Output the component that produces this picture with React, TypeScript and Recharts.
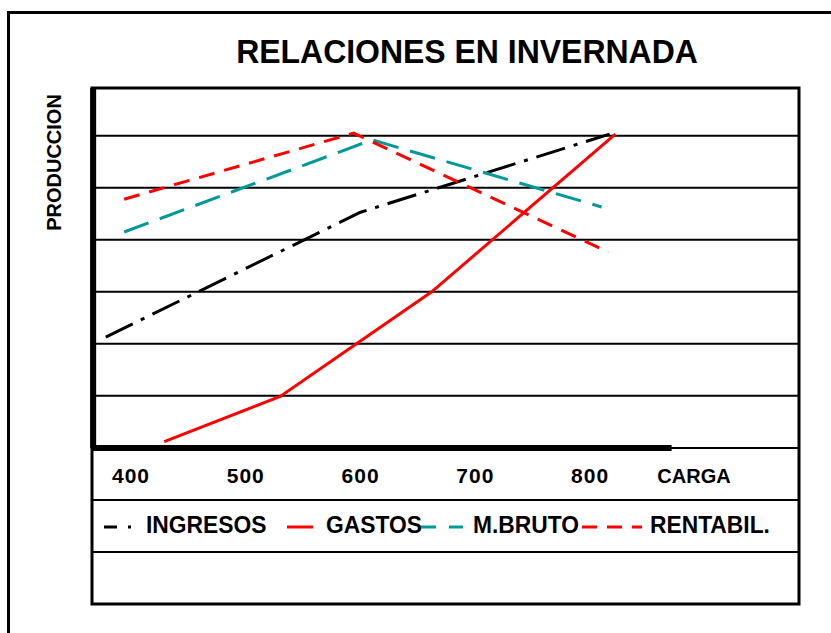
import React from 'react';
import {
  LineChart,
  Line,
  XAxis,
  YAxis,
  CartesianGrid,
  ReferenceLine,
  ReferenceArea,
  Legend,
} from 'recharts';

// ---- data (CARGA on x, PRODUCCION on y in grid units) ----
const ingresos = [
  { x: 378, y: 2.13 },
  { x: 600, y: 4.53 },
  { x: 817, y: 6.03 },
];
const gastos = [
  { x: 429, y: 0.12 },
  { x: 530, y: 0.99 },
  { x: 662, y: 3.0 },
  { x: 822, y: 6.03 },
];
const mBruto = [
  { x: 394, y: 4.15 },
  { x: 610, y: 5.92 },
  { x: 810, y: 4.63 },
];
const rentabil = [
  { x: 394, y: 4.78 },
  { x: 594, y: 6.05 },
  { x: 816, y: 3.76 },
];

const xTicks = [400, 500, 600, 700, 800];
const xDomain = [366, 982];
const yDomain = [-3, 6.917];
const yGridTicks = [-2, -1, 0, 1, 2, 3, 4, 5, 6];
const xAxisEnd = 871;

const TITLE = 'RELACIONES EN INVERNADA';
const X_TITLE = 'CARGA';
const Y_TITLE = 'PRODUCCION';

const FONT = '"Liberation Sans", Arial, Helvetica, sans-serif';

const series = [
  { name: 'INGRESOS', data: ingresos, color: '#000000', dash: '30 9 4 9', legendDash: '13 11 3 100', symW: 27, symX: 104, textX: 146 },
  { name: 'GASTOS', data: gastos, color: '#ff0000', dash: undefined, legendDash: undefined, symW: 26, symX: 287, textX: 326 },
  { name: 'M.BRUTO', data: mBruto, color: '#009999', dash: '26 12', legendDash: '15 13', symW: 42, symX: 421, textX: 473 },
  { name: 'RENTABIL.', data: rentabil, color: '#ff0000', dash: '16 10', legendDash: '15 10', symW: 60, symX: 582, textX: 650 },
];

const renderTick = (props: any) => {
  const { x, payload } = props;
  return (
    <text
      x={x}
      y={483}
      textAnchor="middle"
      fontFamily={FONT}
      fontWeight="bold"
      fontSize={21}
      letterSpacing={1}
      fill="#000"
    >
      {payload.value}
    </text>
  );
};

const renderXTitle = (props: any) => {
  const vb = props.viewBox || {};
  return (
    <text
      x={vb.x + vb.width - 105}
      y={483}
      textAnchor="middle"
      fontFamily={FONT}
      fontWeight="bold"
      fontSize={20}
      fill="#000"
    >
      {X_TITLE}
    </text>
  );
};

const renderYTitle = () => {
  const cx = 60.5;
  const cy = 162.5;
  return (
    <text
      x={cx}
      y={cy}
      transform={`rotate(-90, ${cx}, ${cy})`}
      textAnchor="middle"
      fontFamily={FONT}
      fontWeight="bold"
      fontSize={20}
      fill="#000"
    >
      {Y_TITLE}
    </text>
  );
};

const renderLegend = () => (
  <div style={{ position: 'relative', width: 831, height: 30 }}>
    {series.map((s) => (
      <React.Fragment key={s.name}>
        <svg
          width={s.symW}
          height={30}
          style={{ position: 'absolute', left: s.symX, top: 0 }}
        >
          <line
            x1={0}
            y1={17}
            x2={s.symW}
            y2={17}
            stroke={s.color}
            strokeWidth={3}
            strokeDasharray={s.legendDash}
          />
        </svg>
        <span
          style={{
            position: 'absolute',
            left: s.textX,
            top: 0,
            lineHeight: '30px',
            fontSize: 24,
            fontWeight: 'bold',
            fontFamily: FONT,
            color: '#000',
            whiteSpace: 'nowrap',
            transform: 'scaleX(0.95)',
            transformOrigin: 'left center',
          }}
        >
          {s.name}
        </span>
      </React.Fragment>
    ))}
  </div>
);

export default function App() {
  return (
    <div
      style={{
        position: 'absolute',
        left: 0,
        top: 0,
        width: 831,
        height: 633,
        overflow: 'hidden',
        background: '#fff',
        fontFamily: FONT,
      }}
    >
      <div
        style={{
          position: 'absolute',
          left: 7,
          top: 11,
          width: 900,
          height: 700,
          borderLeft: '3px solid #000',
          borderTop: '3px solid #000',
        }}
      />
      <div
        style={{
          position: 'absolute',
          left: 67,
          top: 34,
          width: 800,
          textAlign: 'center',
          fontSize: 34,
          lineHeight: '34px',
          fontWeight: 'bold',
          fontFamily: FONT,
          color: '#000',
          whiteSpace: 'nowrap',
          transform: 'scaleX(0.94)',
          transformOrigin: 'center center',
        }}
      >
        {TITLE}
      </div>
      <div style={{ position: 'absolute', left: 0, top: 0 }}>
        <LineChart
          width={831}
          height={633}
          margin={{ top: 88, right: 32, bottom: 28, left: 91 }}
        >
          <CartesianGrid
            vertical={false}
            horizontalValues={yGridTicks}
            stroke="#000"
            strokeWidth={2}
            strokeOpacity={1}
          />
          <XAxis
            dataKey="x"
            type="number"
            domain={xDomain}
            ticks={xTicks}
            allowDataOverflow
            height={1}
            axisLine={false}
            tickLine={false}
            tickSize={0}
            tickMargin={0}
            tick={renderTick}
            interval={0}
            label={renderXTitle}
          />
          <YAxis
            type="number"
            domain={yDomain}
            ticks={yGridTicks}
            allowDataOverflow
            width={1}
            axisLine={false}
            tickLine={false}
            tick={() => null}
            label={renderYTitle}
          />
          <ReferenceArea
            x1={xDomain[0]}
            x2={xDomain[1]}
            y1={yDomain[0]}
            y2={yDomain[1]}
            fill="none"
            fillOpacity={0}
            stroke="#000"
            strokeWidth={3}
            ifOverflow="visible"
          />
          <ReferenceLine
            segment={[
              { x: xDomain[0], y: 0 },
              { x: xAxisEnd, y: 0 },
            ]}
            stroke="#000"
            strokeWidth={6}
            ifOverflow="visible"
          />
          <ReferenceLine
            segment={[
              { x: 367, y: 0 },
              { x: 367, y: yDomain[1] },
            ]}
            stroke="#000"
            strokeWidth={6}
            ifOverflow="visible"
          />
          {series.map((s) => (
            <Line
              key={s.name}
              data={s.data}
              dataKey="y"
              name={s.name}
              type="linear"
              stroke={s.color}
              strokeWidth={3}
              strokeDasharray={s.dash}
              dot={false}
              activeDot={false}
              isAnimationActive={false}
            />
          ))}
          <Legend
            verticalAlign="middle"
            layout="horizontal"
            content={renderLegend}
            wrapperStyle={{ position: 'absolute', left: 0, top: 510, width: 831, height: 30 }}
          />
        </LineChart>
      </div>
    </div>
  );
}
